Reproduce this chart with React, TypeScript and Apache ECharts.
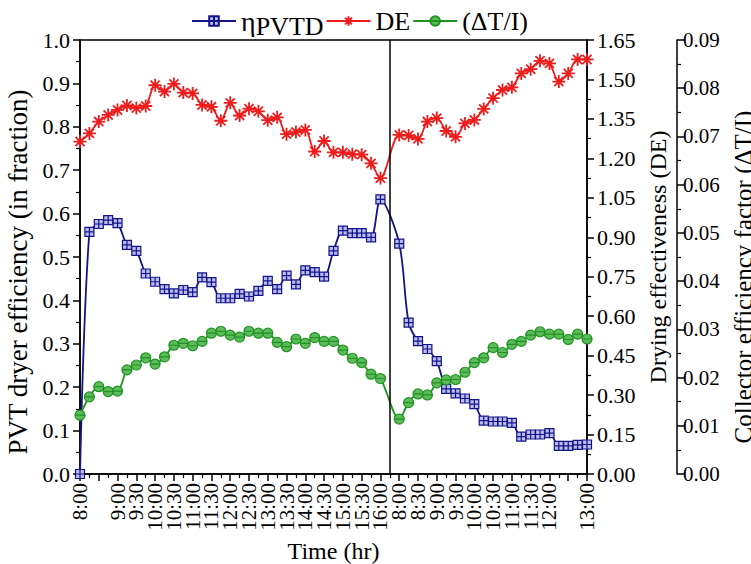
import React, { useEffect, useRef } from "react";
import * as echarts from "echarts";

// Tick labels along the time axis (every 30 min, two drying days)
const timeLabels = [
  "8:00", "8:30", "9:00", "9:30", "10:00", "10:30", "11:00", "11:30", "12:00",
  "12:30", "13:00", "13:30", "14:00", "14:30", "15:00", "15:30", "16:00",
  "8:00", "8:30", "9:00", "9:30", "10:00", "10:30", "11:00", "11:30", "12:00",
  "12:30", "13:00",
];

// Day 1: 8:00–16:00 every 15 min (33 readings); Day 2: 8:00–13:00 every 15 min (21 readings)
const day2Start = 34; // slot index of day-2 8:00 (slots are 15-min steps)
const dayBreak = 33;

const etaDay1 = [
  0.0, 0.558, 0.576, 0.585, 0.578, 0.528, 0.514, 0.462, 0.443, 0.426, 0.416,
  0.424, 0.419, 0.453, 0.442, 0.405, 0.405, 0.415, 0.409, 0.422, 0.445, 0.426,
  0.457, 0.437, 0.469, 0.465, 0.455, 0.514, 0.561, 0.555, 0.555, 0.545, 0.633,
];
const etaDay2 = [
  0.531, 0.349, 0.306, 0.288, 0.26, 0.196, 0.186, 0.174, 0.161, 0.123, 0.121,
  0.121, 0.118, 0.086, 0.091, 0.091, 0.094, 0.065, 0.065, 0.067, 0.068,
];

const deDay1 = [
  1.264, 1.295, 1.34, 1.365, 1.384, 1.401, 1.391, 1.399, 1.478, 1.454, 1.483,
  1.45, 1.447, 1.403, 1.396, 1.343, 1.411, 1.363, 1.389, 1.379, 1.345, 1.356,
  1.292, 1.3, 1.308, 1.226, 1.266, 1.223, 1.223, 1.216, 1.214, 1.181, 1.125,
];
const deDay2 = [
  1.289, 1.287, 1.274, 1.34, 1.353, 1.304, 1.282, 1.333, 1.346, 1.388, 1.429,
  1.46, 1.47, 1.523, 1.539, 1.571, 1.561, 1.492, 1.523, 1.576, 1.576,
];

const ctiDay1 = [
  0.0122, 0.016, 0.0181, 0.0171, 0.0172, 0.0216, 0.0226, 0.0241, 0.0228,
  0.0243, 0.0267, 0.0271, 0.0266, 0.0275, 0.0292, 0.0296, 0.0288, 0.0284,
  0.0296, 0.0292, 0.0292, 0.0273, 0.0264, 0.028, 0.0271, 0.0283, 0.0275,
  0.0275, 0.0257, 0.024, 0.0231, 0.0207, 0.0198,
];
const ctiDay2 = [
  0.0114, 0.0148, 0.0166, 0.0164, 0.0189, 0.0195, 0.0196, 0.0211, 0.0231,
  0.0241, 0.0262, 0.0252, 0.0269, 0.0275, 0.0288, 0.0295, 0.029, 0.029,
  0.0279, 0.029, 0.028,
];

const seriesNames = ["ηPVTD", "DE", "(ΔT/I)"];

const toPoints = (d1: number[], d2: number[]) => [
  ...d1.map((v, i) => [i, v]),
  ...d2.map((v, i) => [day2Start + i, v]),
];

const FONT = "'Liberation Serif', 'Times New Roman', 'DejaVu Serif', serif";
const BLUE = "#14148a";
const RED = "#ee1c1c";
const GREEN = "#1e931e";

const squarePlus = "path://M0,0 L10,0 L10,10 L0,10 Z M5,0 L5,10 M0,5 L10,5";
const asterisk =
  "path://M5,0 L5,10 M0,5 L10,5 M1.5,1.5 L8.5,8.5 M8.5,1.5 L1.5,8.5";
const circleLine =
  "path://M0,5 A5,5 0 1,1 10,5 A5,5 0 1,1 0,5 Z M0,5 L10,5";

export default function App() {
  const ref = useRef<HTMLDivElement>(null);
  useEffect(() => {
    document.body.style.margin = "0";
    document.body.style.overflow = "hidden";
    if (!ref.current) return;
    const chart = echarts.init(ref.current, null, { renderer: "svg" });
    const axisCommon = {
      axisLine: { show: true, lineStyle: { color: "#000", width: 1.5 } },
      axisTick: { show: true, length: 7, lineStyle: { color: "#000", width: 1.5 } },
      minorTick: { show: true, splitNumber: 2, length: 4, lineStyle: { color: "#000", width: 1.2 } },
      splitLine: { show: false },
      axisLabel: {
        color: "#000",
        fontFamily: FONT,
        fontSize: 22,
        margin: 10,
        showMinLabel: true,
        showMaxLabel: true,
        hideOverlap: false,
      },
      nameTextStyle: { color: "#000", fontFamily: FONT, fontSize: 24 },
    };
    chart.setOption({
      animation: false,
      backgroundColor: "#fff",
      textStyle: { fontFamily: FONT },
      legend: {
        top: 2,
        left: 186,
        itemGap: 2,
        itemWidth: 44,
        itemHeight: 12,
        data: seriesNames,
        textStyle: {
          color: "#000",
          fontFamily: FONT,
          fontSize: 26,
          rich: {
            a: { fontFamily: FONT, fontSize: 28, color: "#000" },
            b: { fontFamily: FONT, fontSize: 26, color: "#000", padding: [10, 0, 0, 0] },
          },
        },
        formatter: (n: string) => (n === "ηPVTD" ? "{a|η}{b|PVTD}" : n),
      },
      grid: {
        left: 80,
        right: 164,
        top: 40,
        bottom: 90,
        containLabel: false,
        outerBoundsMode: "none",
        show: true,
        borderColor: "#000",
        borderWidth: 1.5,
        backgroundColor: "transparent",
      },
      xAxis: {
        type: "value",
        min: 0,
        max: 54,
        interval: 2,
        ...axisCommon,
        axisLabel: {
          ...axisCommon.axisLabel,
          rotate: 90,
          fontSize: 21,
          margin: 9,
          formatter: (v: number) => timeLabels[Math.round(v / 2)] ?? "",
        },
        name: "Time (hr)",
        nameLocation: "middle",
        nameGap: 60,
      },
      yAxis: [
        {
          type: "value",
          position: "left",
          min: 0,
          max: 1,
          interval: 0.1,
          ...axisCommon,
          axisLabel: { ...axisCommon.axisLabel, formatter: (v: number) => v.toFixed(1) },
          name: "PVT dryer efficiency (in fraction)",
          nameLocation: "middle",
          nameGap: 49,
          nameTextStyle: { ...axisCommon.nameTextStyle, fontSize: 27, padding: [0, 30, 0, 0] },
        },
        {
          type: "value",
          position: "right",
          min: 0,
          max: 1.65,
          interval: 0.15,
          ...axisCommon,
          axisLabel: { ...axisCommon.axisLabel, formatter: (v: number) => v.toFixed(2) },
          name: "Drying effectiveness (DE)",
          nameLocation: "middle",
          nameGap: 56,
        },
        {
          type: "value",
          position: "right",
          offset: 90,
          min: 0,
          max: 0.09,
          interval: 0.01,
          ...axisCommon,
          axisLabel: { ...axisCommon.axisLabel, fontSize: 21, margin: 6, formatter: (v: number) => v.toFixed(2) },
          name: "Collector efficiency factor (ΔT/I)",
          nameLocation: "middle",
          nameGap: 19,
          nameTextStyle: { ...axisCommon.nameTextStyle, fontSize: 25, padding: [0, 40, 0, 0] },
        },
      ],
      series: [
        {
          name: seriesNames[0],
          type: "line",
          yAxisIndex: 0,
          data: toPoints(etaDay1, etaDay2),
          smooth: 0.3,
          symbol: squarePlus,
          symbolSize: 9,
          showAllSymbol: true,
          lineStyle: { color: BLUE, width: 1.8 },
          itemStyle: { color: "#b9bcec", borderColor: BLUE, borderWidth: 1.2 },
          markLine: {
            silent: true,
            symbol: ["none", "none"],
            label: { show: false },
            lineStyle: { color: "#000", width: 1.5, type: "solid" },
            data: [{ xAxis: dayBreak }],
          },
          z: 3,
        },
        {
          name: seriesNames[1],
          type: "line",
          yAxisIndex: 1,
          data: toPoints(deDay1, deDay2),
          smooth: 0.3,
          symbol: asterisk,
          symbolSize: 13,
          showAllSymbol: true,
          lineStyle: { color: RED, width: 1.8 },
          itemStyle: { color: RED, borderColor: RED, borderWidth: 1.8 },
          z: 3,
        },
        {
          name: seriesNames[2],
          type: "line",
          yAxisIndex: 2,
          data: toPoints(ctiDay1, ctiDay2),
          smooth: 0.3,
          symbol: circleLine,
          symbolSize: 10,
          showAllSymbol: true,
          lineStyle: { color: GREEN, width: 1.8 },
          itemStyle: { color: "#5dbb5d", borderColor: GREEN, borderWidth: 1.2 },
          z: 3,
        },
      ],
    });
    return () => chart.dispose();
  }, []);
  return (
    <div
      ref={ref}
      style={{ position: "absolute", left: 0, top: 0, width: 751, height: 564 }}
    />
  );
}
